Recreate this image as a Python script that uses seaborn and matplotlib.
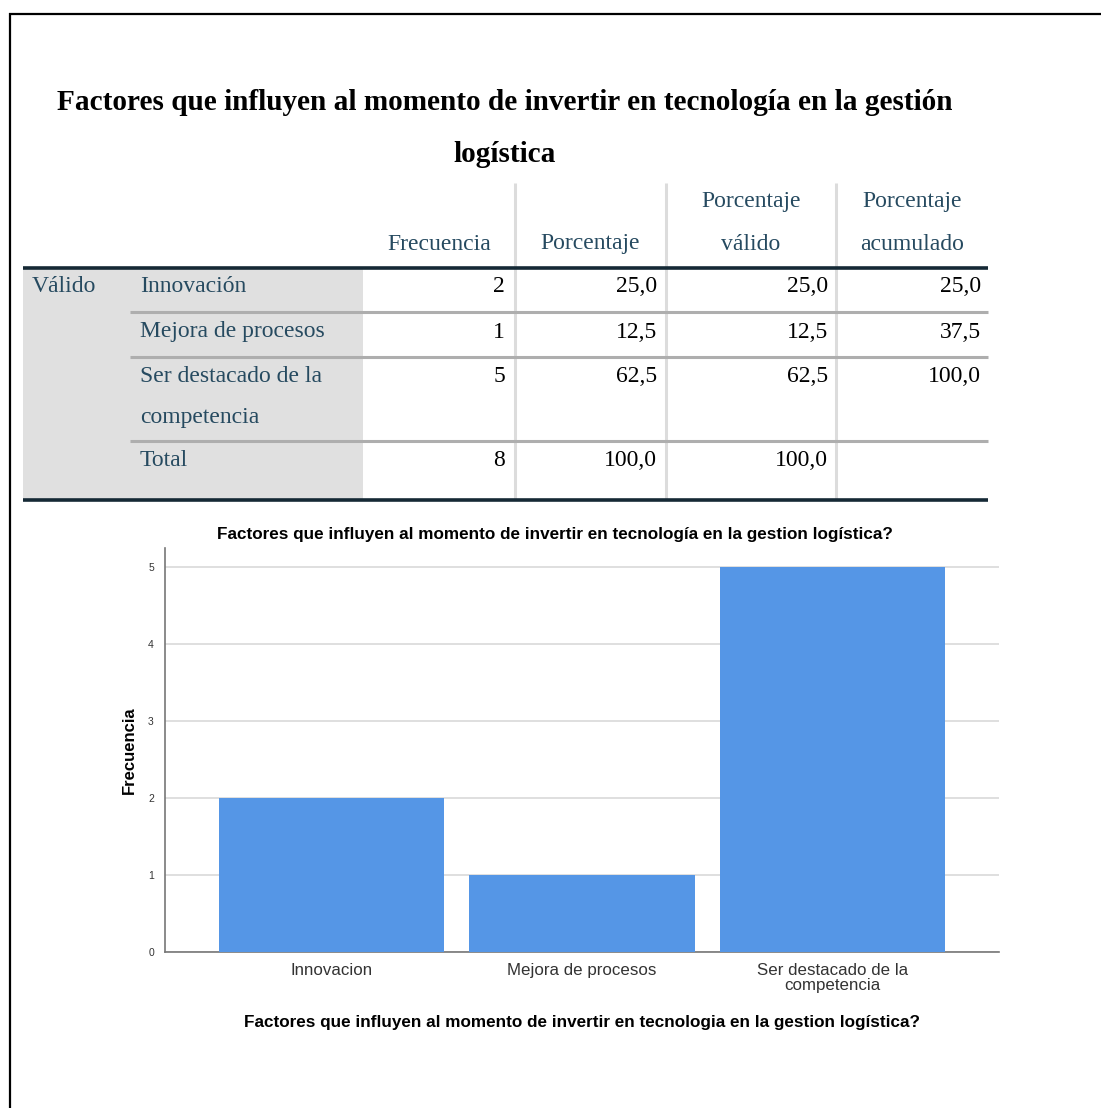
import matplotlib
matplotlib.use("Agg")
import matplotlib.pyplot as plt
import seaborn as sns
import pandas as pd
from matplotlib.lines import Line2D
from matplotlib.patches import Rectangle

# ---------------- data ----------------
main_title_1 = "Factores que influyen al momento de invertir en tecnología en la gestión"
main_title_2 = "logística"
col_headers = ["Frecuencia", "Porcentaje", "Porcentaje\nválido", "Porcentaje\nacumulado"]
row_group = "Válido"
row_labels = ["Innovación", "Mejora de procesos", "Ser destacado de la\ncompetencia", "Total"]
frecuencia = ["2", "1", "5", "8"]
porcentaje = ["25,0", "12,5", "62,5", "100,0"]
porc_valido = ["25,0", "12,5", "62,5", "100,0"]
porc_acumulado = ["25,0", "37,5", "100,0", ""]

chart_title = "Factores que influyen al momento de invertir en tecnología en la gestion logística?"
x_label = "Factores que influyen al momento de invertir en tecnologia en la gestion logística?"
y_label = "Frecuencia"
categories = ["Innovacion", "Mejora de procesos", "Ser destacado de la\ncompetencia"]
counts = [2, 1, 5]

# ---------------- figure ----------------
W, H = 1101, 1108
sns.set_style("white")
fig = plt.figure(figsize=(W / 100, H / 100), dpi=100)
fig.patch.set_facecolor("white")

def fx(x):
    return x / W

def fy(y):
    return 1 - y / H

def hline(x0, x1, y, color, lw):
    fig.add_artist(Line2D([fx(x0), fx(x1)], [fy(y), fy(y)], color=color, lw=lw,
                          transform=fig.transFigure, solid_capstyle="butt"))

def vline(x, y0, y1, color, lw):
    fig.add_artist(Line2D([fx(x), fx(x)], [fy(y0), fy(y1)], color=color, lw=lw,
                          transform=fig.transFigure, solid_capstyle="butt"))

# page frame
vline(9.5, 13, H, "black", 1.6)
hline(9, W, 13.5, "black", 1.6)

serif = ["Liberation Serif", "DejaVu Serif"]
sans = ["Liberation Sans", "DejaVu Sans"]
slate = "#264a60"
TFS = 17

# main title
fig.text(fx(505), fy(103), main_title_1, ha="center", va="center",
         fontsize=21.1, fontweight="bold", family=serif, color="black")
fig.text(fx(505), fy(154), main_title_2, ha="center", va="center",
         fontsize=21.1, fontweight="bold", family=serif, color="black")

# table background
fig.add_artist(Rectangle((fx(23), fy(499)), fx(363) - fx(23), fy(268) - fy(499),
                         transform=fig.transFigure, facecolor="#e0e0e0", edgecolor="none"))

# vertical grid lines
for xv in [515, 666, 836]:
    vline(xv, 183, 499, "#dcdcdc", 2.2)

# row separators
for yv in [312, 357, 441]:
    hline(130, 988, yv, "#aeaeae", 2.2)

# thick lines
hline(23, 988, 268, "#152935", 2.6)
hline(23, 988, 499.5, "#152935", 2.6)

dy = 3  # visual offset for serif text centring

# headers
col_centers = [439, 590, 751, 912]
for cx, h in zip(col_centers, col_headers):
    parts = h.split("\n")
    if len(parts) == 1:
        fig.text(fx(cx), fy(241 + dy), parts[0], ha="center", va="center",
                 fontsize=TFS, family=serif, color=slate)
    else:
        fig.text(fx(cx), fy(199 + dy), parts[0], ha="center", va="center",
                 fontsize=TFS, family=serif, color=slate)
        fig.text(fx(cx), fy(241 + dy), parts[1], ha="center", va="center",
                 fontsize=TFS, family=serif, color=slate)

fig.text(fx(32), fy(284 + dy), row_group, ha="left", va="center",
         fontsize=TFS, family=serif, color=slate)

row_y = [284, 329, 374, 458]
for yy, lab in zip(row_y, row_labels):
    parts = lab.split("\n")
    fig.text(fx(140), fy(yy + dy), parts[0], ha="left", va="center",
             fontsize=TFS, family=serif, color=slate)
    if len(parts) > 1:
        fig.text(fx(140), fy(yy + 41 + dy), parts[1], ha="left", va="center",
                 fontsize=TFS, family=serif, color=slate)

num_right = [505, 657, 828, 981]
for col_vals, xr in zip([frecuencia, porcentaje, porc_valido, porc_acumulado], num_right):
    for yy, v in zip(row_y, col_vals):
        fig.text(fx(xr), fy(yy + dy), v, ha="right", va="center",
                 fontsize=TFS, family=serif, color="black")

# ---------------- bar chart ----------------
ax = fig.add_axes([fx(165), fy(952), fx(999) - fx(165), fy(548) - fy(952)])
df = pd.DataFrame({"cat": categories, "n": counts})
sns.barplot(data=df, x="cat", y="n", color="#5596e6", saturation=1, width=0.9,
            ax=ax, zorder=3)
for p in ax.patches:
    p.set_edgecolor("none")
ax.set_xlim(-0.665, 2.665)
ax.set_ylim(0, 5.247)
ax.set_yticks([0, 1, 2, 3, 4, 5])
ax.set_yticklabels(["0", "1", "2", "3", "4", "5"], fontsize=7.5, family=sans, color="#333333")
ax.set_xticks([0, 1, 2])
ax.set_xticklabels(categories, fontsize=12.2, family=sans, color="#333333", linespacing=0.95)
ax.tick_params(axis="both", length=0, pad=8)
ax.tick_params(axis="x", pad=8)
ax.yaxis.grid(True, color="#d9d9d9", lw=1.2, zorder=0)
ax.set_axisbelow(True)
for s in ["top", "right"]:
    ax.spines[s].set_visible(False)
for s in ["left", "bottom"]:
    ax.spines[s].set_color("#777777")
    ax.spines[s].set_linewidth(1.2)
ax.set_xlabel("")
ax.set_ylabel("")

fig.text(fx(555), fy(534), chart_title, ha="center", va="center",
         fontsize=12.3, fontweight="bold", family=sans, color="black")
fig.text(fx(582), fy(1022), x_label, ha="center", va="center",
         fontsize=12.3, fontweight="bold", family=sans, color="black")
fig.text(fx(129), fy(750), y_label, ha="center", va="center", rotation=90,
         fontsize=12, fontweight="bold", family=sans, color="black")

fig.savefig("out.png", dpi=100, facecolor="white")
